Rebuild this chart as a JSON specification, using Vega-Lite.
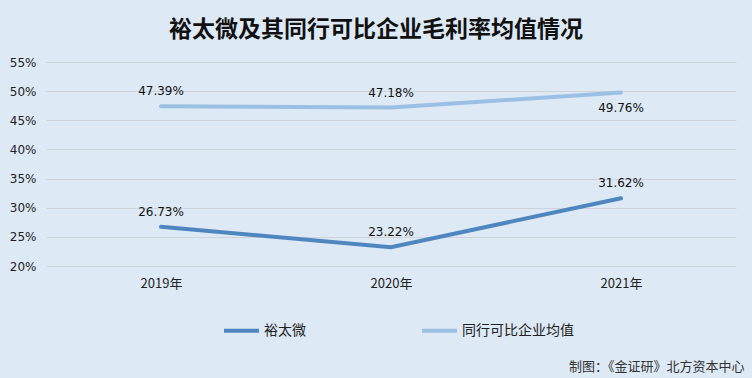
{
  "$schema": "https://vega.github.io/schema/vega-lite/v6.json",
  "width": 690,
  "height": 204,
  "autosize": {"type": "none"},
  "padding": {"left": 46, "top": 62, "right": 16, "bottom": 112},
  "background": "#dde9f5",
  "title": {
    "text": "裕太微及其同行可比企业毛利率均值情况",
    "font": "Noto Sans CJK SC",
    "fontSize": 23,
    "fontWeight": "bold",
    "color": "#111111",
    "anchor": "middle",
    "dx": -15,
    "offset": 14
  },
  "config": {
    "view": {"stroke": null},
    "font": "DejaVu Sans"
  },
  "data": {
    "values": [
      {"year": "2019年", "series": "裕太微", "value": 0.2673},
      {"year": "2020年", "series": "裕太微", "value": 0.2322},
      {"year": "2021年", "series": "裕太微", "value": 0.3162},
      {"year": "2019年", "series": "同行可比企业均值", "value": 0.4739},
      {"year": "2020年", "series": "同行可比企业均值", "value": 0.4718},
      {"year": "2021年", "series": "同行可比企业均值", "value": 0.4976}
    ]
  },
  "encoding": {
    "x": {
      "field": "year",
      "type": "ordinal",
      "scale": {"type": "point", "padding": 0.5},
      "axis": {
        "title": "制图：《金证研》北方资本中心",
        "titleFont": "Noto Sans CJK SC",
        "titleFontSize": 13,
        "titleFontWeight": "normal",
        "titleColor": "#333333",
        "titleAnchor": "end",
        "titleAlign": "right",
        "titleBaseline": "middle",
        "titleX": 698,
        "titleY": 100,
        "labelAngle": 0,
        "labelFont": "Noto Sans CJK SC",
        "labelFontSize": 13,
        "labelColor": "#222222",
        "labelPadding": 11,
        "domain": false,
        "ticks": false,
        "grid": false
      }
    },
    "y": {
      "field": "value",
      "type": "quantitative",
      "scale": {"domain": [0.2, 0.55], "nice": false, "zero": false},
      "axis": {
        "title": null,
        "format": ".0%",
        "values": [0.2, 0.25, 0.3, 0.35, 0.4, 0.45, 0.5, 0.55],
        "labelFontSize": 12,
        "labelColor": "#222222",
        "labelPadding": 10,
        "domain": false,
        "ticks": false,
        "gridColor": "#cfd3d8",
        "gridWidth": 1
      }
    }
  },
  "layer": [
    {
      "mark": {"type": "line", "strokeWidth": 4, "strokeCap": "round"},
      "encoding": {
        "color": {
          "field": "series",
          "type": "nominal",
          "scale": {"domain": ["裕太微", "同行可比企业均值"], "range": ["#4e86c0", "#9cc0e4"]},
          "legend": {
            "title": null,
            "orient": "none",
            "direction": "horizontal",
            "legendX": 176,
            "legendY": 249,
            "symbolType": "stroke",
            "symbolStrokeWidth": 4,
            "symbolSize": 1225,
            "labelFont": "Noto Sans CJK SC",
            "labelFontSize": 14,
            "labelColor": "#222222",
            "labelOffset": 3,
            "columnPadding": 108
          }
        }
      }
    },
    {
      "transform": [{"filter": "!(datum.year == '2021年' && datum.series == '同行可比企业均值')"}],
      "mark": {"type": "text", "dy": -15, "fontSize": 12, "color": "#111111"},
      "encoding": {"text": {"field": "value", "type": "quantitative", "format": ".2%"}}
    },
    {
      "transform": [{"filter": "datum.year == '2021年' && datum.series == '同行可比企业均值'"}],
      "mark": {"type": "text", "dy": 15, "fontSize": 12, "color": "#111111"},
      "encoding": {"text": {"field": "value", "type": "quantitative", "format": ".2%"}}
    }
  ]
}
